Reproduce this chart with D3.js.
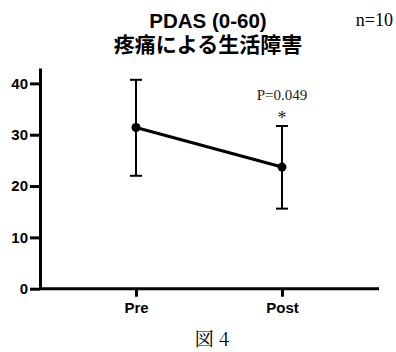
<!DOCTYPE html>
<html>
<head>
<meta charset="utf-8">
<script src="https://cdn.jsdelivr.net/npm/d3@7"></script>
<style>
  body { margin: 0; background: #fff; }
  svg { display: block; }
</style>
</head>
<body>
<div id="chart"></div>
<script>
// PDAS pre/post, mean with error bars
const groups = ["Pre", "Post"];
const means = [31.4, 23.7];
const errLow = [22.0, 15.6];
const errHigh = [40.7, 31.7];
const yTicks = [0, 10, 20, 30, 40];

const width = 396, height = 352;
const margin = {top: 68, right: 17, bottom: 63, left: 40};

const svg = d3.select("#chart").append("svg")
  .attr("width", width)
  .attr("height", height);

const x = d3.scalePoint()
  .domain(groups)
  .range([136, 282]);

const y = d3.scaleLinear()
  .domain([0, 43])
  .range([height - margin.bottom - 0.3, margin.top]);

const data = groups.map((g, i) => ({g, mean: means[i], lo: errLow[i], hi: errHigh[i]}));

// axes
const gy = svg.append("g")
  .attr("transform", `translate(${margin.left},0)`)
  .call(d3.axisLeft(y).tickValues(yTicks).tickSize(10).tickSizeOuter(0).tickPadding(2));
gy.select(".domain").attr("stroke-width", 3);
gy.selectAll(".tick line").attr("stroke-width", 3);
gy.selectAll(".tick text")
  .attr("font-family", "Liberation Sans, Arial, sans-serif")
  .attr("font-weight", "bold")
  .attr("font-size", 15)
  .attr("fill", "#000");

const gx = svg.append("g")
  .attr("transform", `translate(0,${y(0)})`)
  .call(d3.axisBottom(x).tickSize(8).tickSizeOuter(0).tickPadding(6));
gx.select(".domain").attr("d", `M${margin.left},0H${width - margin.right}`).attr("stroke-width", 3);
gx.selectAll(".tick line").attr("stroke-width", 3);
gx.selectAll(".tick text")
  .attr("font-family", "Liberation Sans, Arial, sans-serif")
  .attr("font-weight", "bold")
  .attr("font-size", 15)
  .attr("fill", "#000");

// error bars
const eb = svg.append("g").attr("stroke", "#000").attr("stroke-width", 2);
eb.selectAll(".v").data(data).join("line")
  .attr("x1", d => x(d.g)).attr("x2", d => x(d.g))
  .attr("y1", d => y(d.lo)).attr("y2", d => y(d.hi));
eb.selectAll(".top").data(data).join("line")
  .attr("x1", d => x(d.g) - 6).attr("x2", d => x(d.g) + 6)
  .attr("y1", d => y(d.hi)).attr("y2", d => y(d.hi));
eb.selectAll(".bot").data(data).join("line")
  .attr("x1", d => x(d.g) - 6).attr("x2", d => x(d.g) + 6)
  .attr("y1", d => y(d.lo)).attr("y2", d => y(d.lo));

// mean line
svg.append("path")
  .datum(data)
  .attr("fill", "none")
  .attr("stroke", "#000")
  .attr("stroke-width", 3)
  .attr("d", d3.line().x(d => x(d.g)).y(d => y(d.mean)));

svg.selectAll(".pt").data(data).join("circle")
  .attr("cx", d => x(d.g))
  .attr("cy", d => y(d.mean))
  .attr("r", 4.5)
  .attr("fill", "#000");

// titles
svg.append("text")
  .attr("x", 208).attr("y", 28)
  .attr("text-anchor", "middle")
  .attr("font-family", "Liberation Sans, Arial, sans-serif")
  .attr("font-weight", "bold")
  .attr("font-size", 20.5)
  .text("PDAS (0-60)");

svg.append("text")
  .attr("x", 208).attr("y", 51.5)
  .attr("text-anchor", "middle")
  .attr("font-family", "Noto Sans CJK JP, sans-serif")
  .attr("font-weight", "bold")
  .attr("font-size", 21)
  .text("疼痛による生活障害");

svg.append("text")
  .attr("x", 393).attr("y", 26)
  .attr("text-anchor", "end")
  .attr("font-family", "Liberation Serif, Times New Roman, serif")
  .attr("font-size", 18)
  .text("n=10");

// significance
svg.append("text")
  .attr("x", x("Post")).attr("y", 100)
  .attr("text-anchor", "middle")
  .attr("font-family", "Liberation Serif, Times New Roman, serif")
  .attr("font-size", 15)
  .attr("fill", "#222")
  .text("P=0.049");

svg.append("text")
  .attr("x", x("Post")).attr("y", 124)
  .attr("text-anchor", "middle")
  .attr("font-family", "Liberation Serif, Times New Roman, serif")
  .attr("font-size", 18)
  .attr("fill", "#222")
  .text("*");

svg.append("text")
  .attr("x", 212).attr("y", 346)
  .attr("text-anchor", "middle")
  .attr("font-family", "Noto Serif CJK JP, Liberation Serif, serif")
  .attr("font-size", 19)
  .text("図 4");
</script>
</body>
</html>
